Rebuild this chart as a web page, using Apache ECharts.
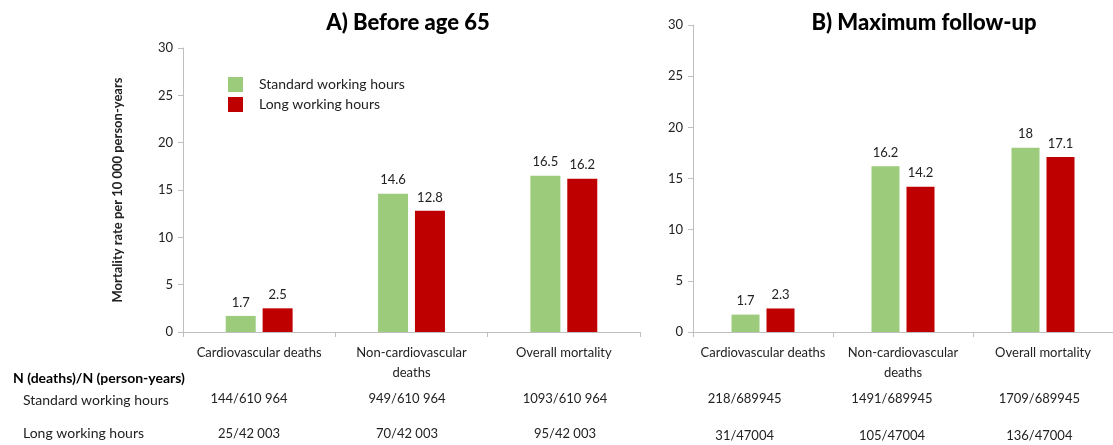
<!DOCTYPE html>
<html>
<head>
<meta charset="utf-8">
<script src="https://cdn.jsdelivr.net/npm/echarts@6/dist/echarts.min.js"></script>
<style>
  html, body { margin: 0; padding: 0; background: #fff; }
  #chart { width: 1113px; height: 445px; }
</style>
</head>
<body>
<div id="chart"></div>
<script>
// categories and values
const categories = ['Cardiovascular deaths', 'Non-cardiovascular\ndeaths', 'Overall mortality']
const seriesNames = ['Standard working hours', 'Long working hours']
const panelTitles = ['A) Before age 65', 'B) Maximum follow-up']

const before65Standard = [1.7, 14.6, 16.5]
const before65Long = [2.5, 12.8, 16.2]
const followUpStandard = [1.7, 16.2, 18]
const followUpLong = [2.3, 14.2, 17.1]

// N (deaths)/N (person-years) rows
const before65NStandard = ['144/610 964', '949/610 964', '1093/610 964']
const before65NLong = ['25/42 003', '70/42 003', '95/42 003']
const followUpNStandard = ['218/689945', '1491/689945', '1709/689945']
const followUpNLong = ['31/47004', '105/47004', '136/47004']
const tableRowLabels = ['N (deaths)/N (person-years)', 'Standard working hours', 'Long working hours']

const yTicks = { min: 0, max: 30, interval: 5 }
const yAxisName = 'Mortality rate per 10 000 person-years'

const FONT = 'Lato, "Open Sans", sans-serif'
const GREEN = '#9BCB7B'
const RED = '#BF0000'
const AXIS_GREY = '#BFBFBF'
const TEXT = '#222'

const chart = echarts.init(document.getElementById('chart'))

function mainXAxis(gridIndex) {
  return {
    type: 'category',
    gridIndex: gridIndex,
    data: categories,
    axisLine: { lineStyle: { color: AXIS_GREY } },
    axisTick: { show: true, length: 5, lineStyle: { color: AXIS_GREY } },
    axisLabel: {
      interval: 0,
      margin: 11,
      color: TEXT,
      fontSize: 13,
      lineHeight: 20,
      fontFamily: FONT
    }
  }
}

// table rows live in their own invisible grids (columns sit a little off the bar groups)
function rowXAxis(gridIndex, values, offset) {
  return {
    type: 'category',
    gridIndex: gridIndex,
    position: 'bottom',
    offset: offset,
    data: values,
    axisLine: { show: false },
    axisTick: { show: false },
    axisLabel: {
      interval: 0,
      margin: 0,
      color: TEXT,
      fontSize: 13,
      fontFamily: FONT
    }
  }
}

function valueYAxis(gridIndex, withName) {
  return {
    type: 'value',
    gridIndex: gridIndex,
    min: yTicks.min,
    max: yTicks.max,
    interval: yTicks.interval,
    name: withName ? yAxisName : '',
    nameLocation: 'middle',
    nameGap: 59,
    nameTextStyle: {
      fontSize: 13,
      fontWeight: 'bold',
      color: TEXT,
      fontFamily: FONT
    },
    axisLine: { show: true, lineStyle: { color: AXIS_GREY } },
    axisTick: { show: true, length: 5, lineStyle: { color: AXIS_GREY } },
    splitLine: { show: false },
    axisLabel: {
      margin: 10,
      color: TEXT,
      fontSize: 13,
      fontFamily: FONT
    }
  }
}

function hiddenYAxis(gridIndex) {
  return { type: 'value', gridIndex: gridIndex, show: false, min: 0, max: 1 }
}

function barSeries(name, data, color, axisIndex, width, gap) {
  return {
    name: name,
    type: 'bar',
    xAxisIndex: axisIndex,
    yAxisIndex: axisIndex,
    data: data,
    barWidth: width,
    barGap: gap,
    itemStyle: { color: color },
    label: {
      show: true,
      position: 'top',
      distance: 7,
      color: TEXT,
      fontSize: 13,
      fontFamily: FONT
    }
  }
}

let options = {
  animation: false,
  backgroundColor: '#fff',
  textStyle: { fontFamily: FONT },
  title: [
    {
      text: panelTitles[0],
      left: 408,
      top: 12,
      padding: 0,
      textAlign: 'center',
      textStyle: { fontSize: 22, fontWeight: 900, color: '#000', fontFamily: FONT }
    },
    {
      text: panelTitles[1],
      left: 924,
      top: 12,
      padding: 0,
      textAlign: 'center',
      textStyle: { fontSize: 22, fontWeight: 900, color: '#000', fontFamily: FONT }
    }
  ],
  legend: {
    data: seriesNames,
    orient: 'vertical',
    left: 228,
    top: 77,
    padding: 0,
    icon: 'rect',
    itemWidth: 15,
    itemHeight: 15,
    itemGap: 5,
    textStyle: { fontSize: 14, color: TEXT, fontFamily: FONT, padding: [0, 0, 0, 11] }
  },
  grid: [
    { left: 183, top: 48, width: 457, bottom: 113 },
    { left: 693, top: 25, width: 423, bottom: 113 },
    { left: 170, top: 48, width: 474, bottom: 113 },
    { left: 671, top: 25, width: 460, bottom: 113 }
  ],
  xAxis: [
    mainXAxis(0),
    mainXAxis(1),
    rowXAxis(2, before65NStandard, 60),
    rowXAxis(2, before65NLong, 95),
    rowXAxis(3, followUpNStandard, 60),
    rowXAxis(3, followUpNLong, 97)
  ],
  yAxis: [valueYAxis(0, true), valueYAxis(1, false), hiddenYAxis(2), hiddenYAxis(3)],
  series: [
    barSeries(seriesNames[0], before65Standard, GREEN, 0, 30, '23%'),
    barSeries(seriesNames[1], before65Long, RED, 0, 30, '23%'),
    barSeries(seriesNames[0], followUpStandard, GREEN, 1, 28, '25%'),
    barSeries(seriesNames[1], followUpLong, RED, 1, 28, '25%')
  ],
  graphic: [
    {
      type: 'text', left: 13, top: 371,
      style: { text: tableRowLabels[0], fontSize: 14, fontWeight: 'bold', fill: '#000', fontFamily: FONT }
    },
    {
      type: 'text', left: 23, top: 393,
      style: { text: tableRowLabels[1], fontSize: 14, fill: TEXT, fontFamily: FONT }
    },
    {
      type: 'text', left: 23, top: 426,
      style: { text: tableRowLabels[2], fontSize: 14, fill: TEXT, fontFamily: FONT }
    }
  ]
}
chart.setOption(options)
</script>
</body>
</html>
